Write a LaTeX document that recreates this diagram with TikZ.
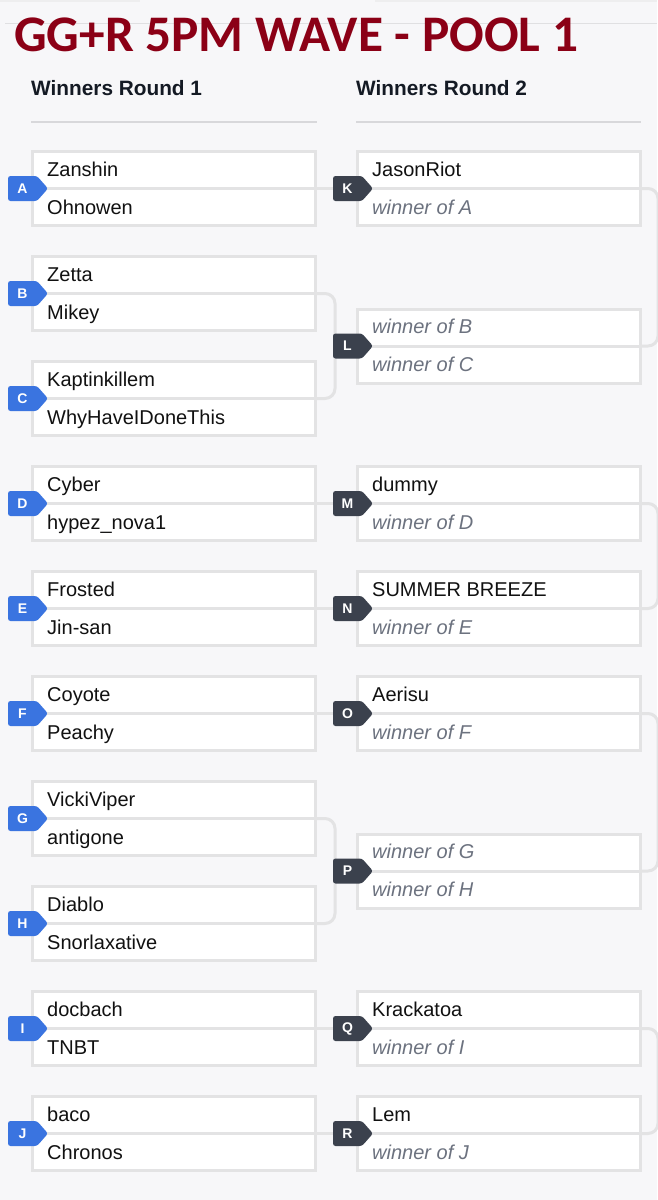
\documentclass[tikz,border=0pt]{standalone}
\usepackage{fontspec}
\setmainfont{Liberation Sans}
\newfontfamily\titlefont{Carlito}
\usetikzlibrary{calc}
\definecolor{bgc}{HTML}{F7F7F9}
\definecolor{boxc}{HTML}{E3E3E4}
\definecolor{rulec}{HTML}{D8D8DB}
\definecolor{titlec}{HTML}{8B0016}
\definecolor{hdrc}{HTML}{141A24}
\definecolor{txtc}{HTML}{111111}
\definecolor{winc}{HTML}{6C727F}
\definecolor{bluebadge}{HTML}{3A74E0}
\definecolor{darkbadge}{HTML}{3B414D}
\pgfdeclarelayer{background}
\pgfsetlayers{background,main}
\newcommand\winof[1]{{\itshape\color{winc}winner of #1}}
% #1 name, #2 left x, #3 centre y, #4 colour, #5 letter
\newcommand\mybadge[5]{%
  \fill[#4, rounded corners=2.5pt] (#2,#3-12.5) -- (#2+29,#3-12.5) -- (#2+40,#3) -- (#2+29,#3+12.5) -- (#2,#3+12.5) -- cycle;
  \node[badgetxt] (#1) at (#2+14.5,#3) {#5};}
\tikzset{
  matchbox/.style={draw=boxc, line width=3pt, fill=white, minimum width=283pt, minimum height=74pt, inner sep=0pt},
  divline/.style={draw=boxc, line width=3pt},
  conn/.style={draw=boxc, line width=3pt},
  playername/.style={anchor=base west, inner sep=0pt, text=txtc, font=\fontsize{20}{24}\selectfont},
  hdr/.style={anchor=base west, inner sep=0pt, text=hdrc, font=\bfseries\fontsize{20.8}{24}\selectfont},
  hrule/.style={draw=rulec, line width=1.5pt},
  badgetxt/.style={text=white, inner sep=0pt, font=\bfseries\fontsize{14}{15}\selectfont},
}
\begin{document}
\begin{tikzpicture}[x=1pt,y=-1pt]
\useasboundingbox (0,0) rectangle (657,1200);
\begin{pgfonlayer}{background}
\fill[bgc] (0,0) rectangle (657,1200);
\fill[boxc!60] (0,0) rectangle (140,2);
\fill[boxc!60] (375,0) rectangle (657,2);
\draw[rulec!80, line width=1pt] (5,23) -- (657,23);
\end{pgfonlayer}

\node[anchor=base west, inner sep=0pt, text=titlec, font=\titlefont\bfseries\fontsize{51.3}{58}\selectfont] (title) at (14,51) {GG+R 5PM WAVE - POOL 1};

\node[hdr] (h1) at (31,95) {Winners Round 1};
\node[hdr] (h2) at (356,95) {Winners Round 2};
\coordinate (r1a) at (31,122); \coordinate (r1b) at (317,122);
\coordinate (r2a) at (356,122); \coordinate (r2b) at (641,122);
\draw[hrule] (r1a) -- (r1b);
\draw[hrule] (r2a) -- (r2b);

% Round 1
\foreach \l/\a/\b [count=\i from 0] in {A/Zanshin/Ohnowen, B/Zetta/Mikey, C/Kaptinkillem/WhyHaveIDoneThis, D/Cyber/hypez\_nova1, E/Frosted/Jin-san, F/Coyote/Peachy, G/VickiViper/antigone, H/Diablo/Snorlaxative, I/docbach/TNBT, J/baco/Chronos}{
  \pgfmathsetmacro\top{150+105*\i}
  \node[matchbox] (\l) at (174,\top+38.5) {};
  \draw[divline] (\l.west) -- (\l.east);
  \node[playername] (\l-1) at (47,\top+26) {\a};
  \node[playername] (\l-2) at (47,\top+64) {\b};
  \mybadge{\l b}{8}{\top+38.5}{bluebadge}{\l}
}

% Round 2
\foreach \l/\top/\a/\b in {K/150/JasonRiot/\winof{A}, L/307.5/\winof{B}/\winof{C}, M/465/dummy/\winof{D}, N/570/SUMMER BREEZE/\winof{E}, O/675/Aerisu/\winof{F}, P/832.5/\winof{G}/\winof{H}, Q/990/Krackatoa/\winof{I}, R/1095/Lem/\winof{J}}{
  \node[matchbox] (\l) at (498.5,\top+38.5) {};
  \draw[divline] (\l.west) -- (\l.east);
  \node[playername] (\l-1) at (372,\top+26) {\a};
  \node[playername] (\l-2) at (372,\top+64) {\b};
  \mybadge{\l b}{333}{\top+38.5}{darkbadge}{\l}
}

% connectors
\begin{pgfonlayer}{background}
\foreach \s/\t in {A/K, D/M, E/N, F/O, I/Q, J/R}{
  \draw[conn] (\s.east) -- (\t b.center);
}
\coordinate (BCj) at ($(B.east)!0.5!(C.east)+(18,0)$);
\coordinate (GHj) at ($(G.east)!0.5!(H.east)+(18,0)$);
\draw[conn, rounded corners=10pt] (B.east) -| (BCj) |- (C.east);
\draw[conn] (BCj) -- (Lb.center);
\draw[conn, rounded corners=10pt] (G.east) -| (GHj) |- (H.east);
\draw[conn] (GHj) -- (Pb.center);
\foreach \s/\t in {K/L, M/N, O/P, Q/R}{
  \coordinate (\s\t j) at ($(\s.east)!0.5!(\t.east)+(16.5,0)$);
  \draw[conn, rounded corners=10pt] (\s.east) -| (\s\t j) |- (\t.east);
}
\end{pgfonlayer}
\end{tikzpicture}
\end{document}
